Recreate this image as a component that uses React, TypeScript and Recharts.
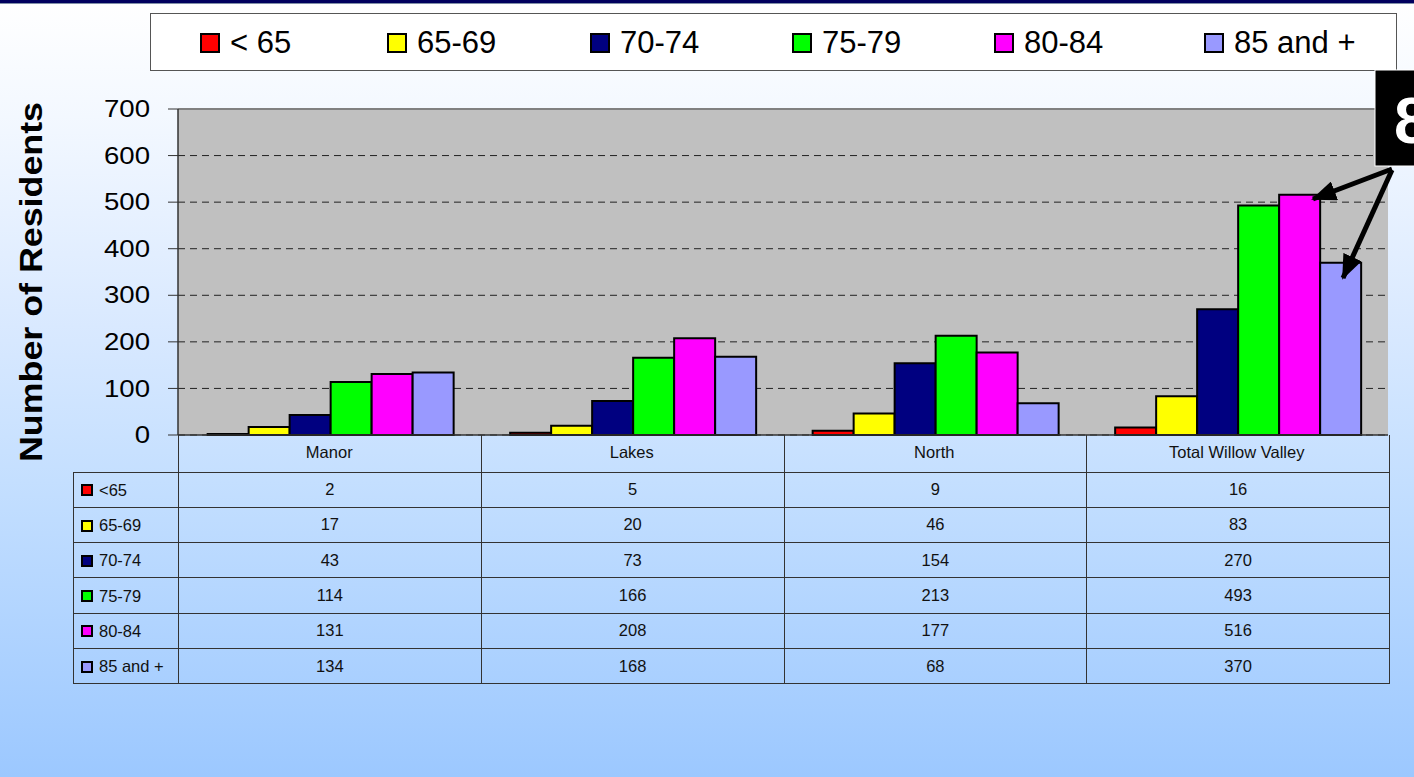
import { Bar, BarChart, CartesianGrid, ReferenceLine, XAxis, YAxis } from 'recharts';

const categories = ['Manor', 'Lakes', 'North', 'Total Willow Valley'];
const under65 = [2, 5, 9, 16];
const age65to69 = [17, 20, 46, 83];
const age70to74 = [43, 73, 154, 270];
const age75to79 = [114, 166, 213, 493];
const age80to84 = [131, 208, 177, 516];
const age85plus = [134, 168, 68, 370];
const yTicks = [0, 100, 200, 300, 400, 500, 600, 700];

const series = [
  { key: 'u65', legend: '< 65', row: '<65', color: '#ff0000', values: under65 },
  { key: 'a65', legend: '65-69', row: '65-69', color: '#ffff00', values: age65to69 },
  { key: 'a70', legend: '70-74', row: '70-74', color: '#000080', values: age70to74 },
  { key: 'a75', legend: '75-79', row: '75-79', color: '#00ff00', values: age75to79 },
  { key: 'a80', legend: '80-84', row: '80-84', color: '#ff00ff', values: age80to84 },
  { key: 'a85', legend: '85 and +', row: '85 and +', color: '#9999ff', values: age85plus }
];

const data = categories.map((name, i) => {
  const row: Record<string, string | number> = { name };
  series.forEach((s) => {
    row[s.key] = s.values[i];
  });
  return row;
});

const FONT = '"Liberation Sans", Arial, sans-serif';
const legendLeft = [49, 236, 439, 641, 843, 1053];

const YTick = ({ x, y, payload }: any) => (
  <text
    transform={`translate(${x},${y}) scale(1.2,1)`}
    textAnchor="end"
    dominantBaseline="central"
    fontSize={23}
    fontFamily={FONT}
    fill="#000"
  >
    {payload.value}
  </text>
);

const XTick = ({ x, y, payload }: any) => (
  <text x={x} y={y + 9} textAnchor="middle" dominantBaseline="central" fontSize={16.5} fontFamily={FONT} fill="#111">
    {payload.value}
  </text>
);

const AxisTitle = () => (
  <text
    x={31}
    y={282}
    transform="rotate(-90 31 282)"
    textAnchor="middle"
    dominantBaseline="central"
    fontSize={32}
    fontWeight="bold"
    fontFamily={FONT}
    textLength={360}
    lengthAdjust="spacingAndGlyphs"
    fill="#000"
  >
    Number of Residents
  </text>
);

const Swatch = ({ color, size }: { color: string; size: number }) => (
  <span
    style={{
      display: 'inline-block',
      width: size,
      height: size,
      boxSizing: 'border-box',
      border: '2px solid #000',
      background: color,
      verticalAlign: 'middle'
    }}
  />
);

export default function App() {
  const cell = { border: '1px solid #333', padding: 0, textAlign: 'center' as const, verticalAlign: 'middle' as const };
  return (
    <div
      style={{
        position: 'absolute',
        left: 0,
        top: 0,
        width: 1414,
        height: 777,
        overflow: 'hidden',
        fontFamily: FONT,
        background: 'linear-gradient(to bottom, #ffffff 0%, #f3f8ff 15%, #dbeaff 40%, #c4dfff 62%, #9cc8ff 100%)'
      }}
    >
      <div style={{ position: 'absolute', left: 0, top: 0, width: 1414, height: 3, background: '#00005e' }} />
      <div style={{ position: 'absolute', left: 0, top: 3, width: 1414, height: 1, background: '#8090a8' }} />

      <div
        style={{
          position: 'absolute',
          left: 150,
          top: 13,
          width: 1247,
          height: 58,
          boxSizing: 'border-box',
          border: '1px solid #555',
          background: '#fff'
        }}
      >
        {series.map((s, i) => (
          <div
            key={s.key}
            style={{ position: 'absolute', left: legendLeft[i], top: 10, height: 38, display: 'flex', alignItems: 'center', whiteSpace: 'nowrap' }}
          >
            <Swatch color={s.color} size={20} />
            <span style={{ fontSize: 31, marginLeft: 10, color: '#000' }}>{s.legend}</span>
          </div>
        ))}
      </div>

      <div style={{ position: 'absolute', left: 0, top: 0 }}>
        <BarChart
          width={1414}
          height={472}
          data={data}
          margin={{ top: 109, right: 26, bottom: 0, left: 0 }}
          barCategoryGap="9.8%"
          barGap={0}
        >
          <CartesianGrid vertical={false} fill="#c0c0c0" stroke="#222" strokeDasharray="7 5" />
          <ReferenceLine y={700} stroke="#808080" strokeWidth={2} />
          <XAxis
            dataKey="name"
            height={37}
            tickLine={false}
            axisLine={{ stroke: '#333', strokeWidth: 1.5 }}
            tick={<XTick />}
            interval={0}
          />
          <YAxis
            width={178}
            domain={[0, 700]}
            ticks={yTicks}
            interval={0}
            tickSize={10}
            tickMargin={18}
            tickLine={{ stroke: '#333' }}
            axisLine={{ stroke: '#333', strokeWidth: 1.5 }}
            tick={<YTick />}
            label={<AxisTitle />}
          />
          {series.map((s) => (
            <Bar key={s.key} dataKey={s.key} fill={s.color} stroke="#000" strokeWidth={2} isAnimationActive={false} />
          ))}
        </BarChart>
      </div>

      <table
        style={{
          position: 'absolute',
          left: 73,
          top: 435,
          width: 1316,
          borderCollapse: 'collapse',
          tableLayout: 'fixed',
          fontSize: 16.5,
          color: '#111'
        }}
      >
        <colgroup>
          <col style={{ width: 105 }} />
          {categories.map((c) => (
            <col key={c} style={{ width: 302.75 }} />
          ))}
        </colgroup>
        <tbody>
          <tr style={{ height: 37 }}>
            <td style={{ border: 'none', padding: 0 }} />
            {categories.map((c) => (
              <td key={c} style={{ ...cell, borderTop: 'none' }} />
            ))}
          </tr>
          {series.map((s) => (
            <tr key={s.key} style={{ height: 35.3 }}>
              <td style={{ ...cell, textAlign: 'left', paddingLeft: 7, whiteSpace: 'nowrap' }}>
                <Swatch color={s.color} size={12} />
                <span style={{ marginLeft: 6, verticalAlign: 'middle' }}>{s.row}</span>
              </td>
              {s.values.map((v, i) => (
                <td key={i} style={cell}>
                  {v}
                </td>
              ))}
            </tr>
          ))}
        </tbody>
      </table>

      <svg width={1414} height={777} style={{ position: 'absolute', left: 0, top: 0, pointerEvents: 'none' }}>
        <defs>
          <marker id="head" markerWidth="5" markerHeight="4" refX="4.6" refY="2" orient="auto" markerUnits="strokeWidth">
            <path d="M0,0 L5,2 L0,4 z" fill="#000" />
          </marker>
        </defs>
        <rect x={1375} y={70} width={45} height={96} fill="#000" stroke="#fff" strokeWidth={1} />
        <text x={1394} y={143} fontSize={64} fontWeight="bold" fontFamily={FONT} fill="#fff">
          8
        </text>
        <line x1={1392} y1={169} x2={1313} y2={199} stroke="#000" strokeWidth={5} markerEnd="url(#head)" />
        <line x1={1392} y1={170} x2={1343} y2={278} stroke="#000" strokeWidth={5} markerEnd="url(#head)" />
      </svg>
    </div>
  );
}
